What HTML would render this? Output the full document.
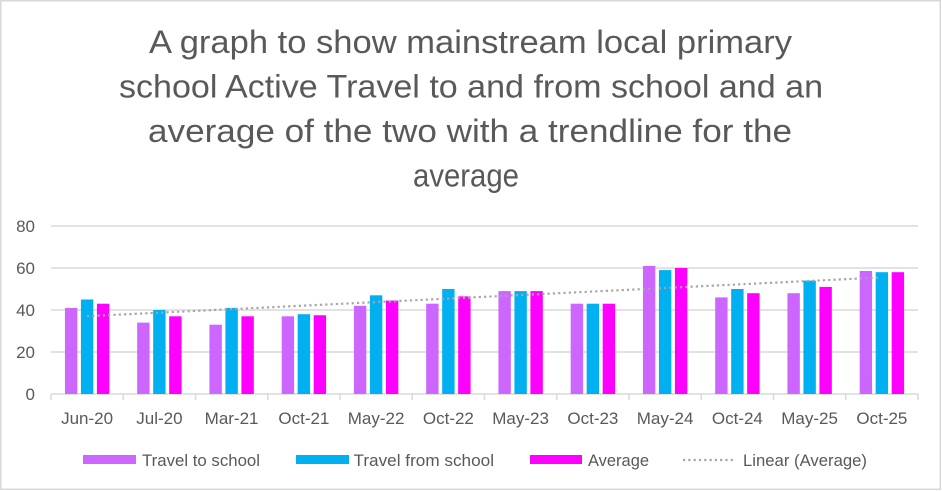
<!DOCTYPE html>
<html>
<head>
<meta charset="utf-8">
<style>
  html,body{margin:0;padding:0;background:#fff;}
  svg{display:block;}
  text{font-family:"Liberation Sans",Arial,sans-serif;fill:#595959;}
</style>
</head>
<body>
<svg width="942" height="491" viewBox="0 0 942 491" xmlns="http://www.w3.org/2000/svg">
  <rect x="0" y="0" width="942" height="491" fill="#fff"/>
  <rect x="0.75" y="0.75" width="939.5" height="488.5" fill="none" stroke="#d9d9d9" stroke-width="1.5"/>

  <!-- Title -->
  <g font-size="32" text-anchor="middle">
    <text x="470.5" y="53" textLength="643" lengthAdjust="spacingAndGlyphs">A graph to show mainstream local primary</text>
    <text x="471" y="97.5" textLength="704" lengthAdjust="spacingAndGlyphs">school Active Travel to and from school and an</text>
    <text x="470" y="142" textLength="644" lengthAdjust="spacingAndGlyphs">average of the two with a trendline for the</text>
    <text x="466" y="186.5" textLength="106" lengthAdjust="spacingAndGlyphs">average</text>
  </g>

  <!-- Gridlines -->
  <g stroke="#d9d9d9" stroke-width="1.5">
    <line x1="51" y1="226" x2="918" y2="226"/>
    <line x1="51" y1="268" x2="918" y2="268"/>
    <line x1="51" y1="310" x2="918" y2="310"/>
    <line x1="51" y1="352" x2="918" y2="352"/>
    <line x1="51" y1="394" x2="918" y2="394"/>
  </g>
  <!-- Ticks -->
  <g stroke="#d9d9d9" stroke-width="1.5">
    <line x1="51" y1="394" x2="51" y2="400"/>
    <line x1="123.25" y1="394" x2="123.25" y2="400"/>
    <line x1="195.5" y1="394" x2="195.5" y2="400"/>
    <line x1="267.75" y1="394" x2="267.75" y2="400"/>
    <line x1="340" y1="394" x2="340" y2="400"/>
    <line x1="412.25" y1="394" x2="412.25" y2="400"/>
    <line x1="484.5" y1="394" x2="484.5" y2="400"/>
    <line x1="556.75" y1="394" x2="556.75" y2="400"/>
    <line x1="629" y1="394" x2="629" y2="400"/>
    <line x1="701.25" y1="394" x2="701.25" y2="400"/>
    <line x1="773.5" y1="394" x2="773.5" y2="400"/>
    <line x1="845.75" y1="394" x2="845.75" y2="400"/>
    <line x1="918" y1="394" x2="918" y2="400"/>
  </g>

  <!-- Y labels -->
  <g font-size="17" text-anchor="end">
    <text x="35" y="232">80</text>
    <text x="35" y="274">60</text>
    <text x="35" y="316">40</text>
    <text x="35" y="358">20</text>
    <text x="35" y="400">0</text>
  </g>

  <!-- X labels -->
  <g font-size="17" text-anchor="middle">
    <text x="87.1" y="424">Jun-20</text>
    <text x="159.4" y="424">Jul-20</text>
    <text x="231.6" y="424">Mar-21</text>
    <text x="303.9" y="424">Oct-21</text>
    <text x="376.1" y="424">May-22</text>
    <text x="448.4" y="424">Oct-22</text>
    <text x="520.6" y="424">May-23</text>
    <text x="592.9" y="424">Oct-23</text>
    <text x="665.1" y="424">May-24</text>
    <text x="737.4" y="424">Oct-24</text>
    <text x="809.6" y="424">May-25</text>
    <text x="881.9" y="424">Oct-25</text>
  </g>

  <!-- Purple bars -->
  <g fill="#cc66ff">
    <rect x="64.925" y="307.9" width="12.4" height="86.1"/>
    <rect x="137.175" y="322.6" width="12.4" height="71.4"/>
    <rect x="209.425" y="324.7" width="12.4" height="69.3"/>
    <rect x="281.675" y="316.3" width="12.4" height="77.7"/>
    <rect x="353.925" y="305.8" width="12.4" height="88.2"/>
    <rect x="426.175" y="303.7" width="12.4" height="90.3"/>
    <rect x="498.425" y="291.1" width="12.4" height="102.9"/>
    <rect x="570.675" y="303.7" width="12.4" height="90.3"/>
    <rect x="642.925" y="265.9" width="12.4" height="128.1"/>
    <rect x="715.175" y="297.4" width="12.4" height="96.6"/>
    <rect x="787.425" y="293.2" width="12.4" height="100.8"/>
    <rect x="859.675" y="270.94" width="12.4" height="123.06"/>
  </g>
  <!-- Blue bars -->
  <g fill="#00b0f0">
    <rect x="80.925" y="299.5" width="12.4" height="94.5"/>
    <rect x="153.175" y="310" width="12.4" height="84"/>
    <rect x="225.425" y="307.9" width="12.4" height="86.1"/>
    <rect x="297.675" y="314.2" width="12.4" height="79.8"/>
    <rect x="369.925" y="295.3" width="12.4" height="98.7"/>
    <rect x="442.175" y="289" width="12.4" height="105"/>
    <rect x="514.425" y="291.1" width="12.4" height="102.9"/>
    <rect x="586.675" y="303.7" width="12.4" height="90.3"/>
    <rect x="658.925" y="270.1" width="12.4" height="123.9"/>
    <rect x="731.175" y="289" width="12.4" height="105"/>
    <rect x="803.425" y="280.6" width="12.4" height="113.4"/>
    <rect x="875.675" y="272.2" width="12.4" height="121.8"/>
  </g>
  <!-- Magenta bars -->
  <g fill="#ff00ff">
    <rect x="96.925" y="303.7" width="12.4" height="90.3"/>
    <rect x="169.175" y="316.3" width="12.4" height="77.7"/>
    <rect x="241.425" y="316.3" width="12.4" height="77.7"/>
    <rect x="313.675" y="315.25" width="12.4" height="78.75"/>
    <rect x="385.925" y="300.55" width="12.4" height="93.45"/>
    <rect x="458.175" y="296.35" width="12.4" height="97.65"/>
    <rect x="530.425" y="291.1" width="12.4" height="102.9"/>
    <rect x="602.675" y="303.7" width="12.4" height="90.3"/>
    <rect x="674.925" y="268" width="12.4" height="126"/>
    <rect x="747.175" y="293.2" width="12.4" height="100.8"/>
    <rect x="819.425" y="286.9" width="12.4" height="107.1"/>
    <rect x="891.675" y="272.2" width="12.4" height="121.8"/>
  </g>

  <!-- Trendline -->
  <line x1="87" y1="316.2" x2="880" y2="277.5" stroke="#a6a6a6" stroke-width="2.2" stroke-dasharray="2.2 3.1"/>

  <!-- Legend -->
  <rect x="83" y="455" width="53" height="9" fill="#cc66ff"/>
  <text x="142" y="466" font-size="17" textLength="118" lengthAdjust="spacingAndGlyphs">Travel to school</text>
  <rect x="296" y="455" width="53" height="9" fill="#00b0f0"/>
  <text x="353.5" y="466" font-size="17" textLength="140.5" lengthAdjust="spacingAndGlyphs">Travel from school</text>
  <rect x="530" y="455" width="52" height="9" fill="#ff00ff"/>
  <text x="588" y="466" font-size="17" textLength="61" lengthAdjust="spacingAndGlyphs">Average</text>
  <line x1="683" y1="460" x2="734" y2="460" stroke="#a6a6a6" stroke-width="2.2" stroke-dasharray="2.2 3.1"/>
  <text x="743" y="466" font-size="17" textLength="124" lengthAdjust="spacingAndGlyphs">Linear (Average)</text>
</svg>
</body>
</html>
